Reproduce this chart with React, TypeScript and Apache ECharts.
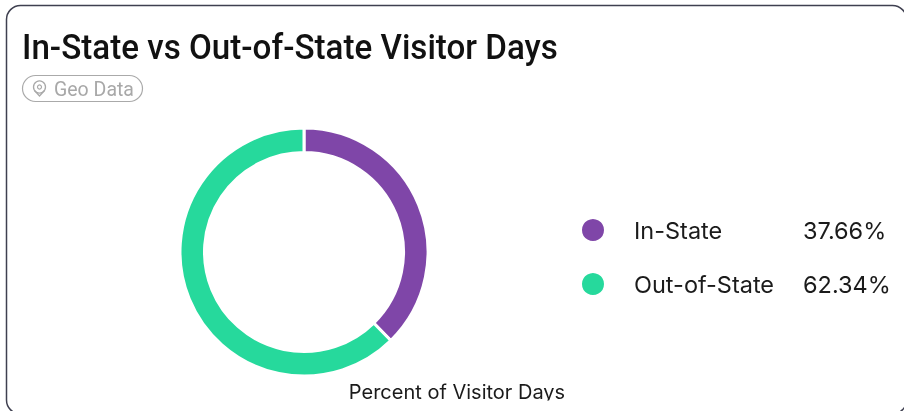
import React, { useEffect, useRef } from "react";
import * as echarts from "echarts";

const categories = ["In-State", "Out-of-State"];
const values = [37.66, 62.34];
const colors = ["#7F46A8", "#26D99C"];
const valueLabels = ["37.66%", "62.34%"];
const titleText = "In-State vs Out-of-State Visitor Days";
const tagText = "Geo Data";
const axisTitle = "Percent of Visitor Days";
const FONT = "Roboto, 'Noto Sans', sans-serif";
const BODY = "Inter, 'Noto Sans', sans-serif";

export default function App() {
  const ref = useRef<HTMLDivElement>(null);
  useEffect(() => {
    if (!ref.current) return;
    const chart = echarts.init(ref.current, undefined, { renderer: "svg" });
    const legendTexts: Record<string, string> = {};
    categories.forEach((c, i) => (legendTexts[c] = valueLabels[i]));
    chart.setOption({
      animation: false,
      backgroundColor: "transparent",
      legend: {
        orient: "vertical",
        left: 580,
        top: 217,
        padding: 0,
        itemWidth: 24,
        itemHeight: 24,
        itemGap: 28,
        icon: "circle",
        selectedMode: false,
        data: categories,
        formatter: (n: string) => `{n|${n}}{v|${legendTexts[n]}}`,
        textStyle: {
          rich: {
            n: { fontFamily: BODY, fontSize: 23.5, color: "#1b1b1b", width: 169, padding: [0, 0, 0, 24] },
            v: { fontFamily: BODY, fontSize: 23.5, color: "#1b1b1b" },
          },
        },
      },
      series: [
        {
          type: "pie",
          center: [304, 252],
          radius: [99.5, 124],
          startAngle: 90,
          clockwise: true,
          label: { show: false },
          labelLine: { show: false },
          silent: true,
          itemStyle: { borderColor: "#fff", borderWidth: 3 },
          data: categories.map((c, i) => ({
            name: c,
            value: values[i],
            itemStyle: { color: colors[i] },
          })),
        },
      ],
      graphic: [
        {
          type: "rect",
          z: -1,
          shape: { x: 6.5, y: 5.5, width: 900, height: 408.5, r: 14 },
          style: { fill: "#fff", stroke: "#3f4050", lineWidth: 1.5 },
        },
        {
          type: "text",
          x: 22,
          y: 47,
          scaleX: 0.948,
          style: { text: titleText, fontFamily: FONT, fontSize: 35, fontWeight: 500, fill: "#111", textVerticalAlign: "middle" },
        },
        {
          type: "rect",
          shape: { x: 22.5, y: 75.5, width: 120, height: 26, r: 13 },
          style: { fill: "#fff", stroke: "#aaaaaa", lineWidth: 1.2 },
        },
        {
          type: "circle",
          shape: { cx: 39.5, cy: 87, r: 6 },
          style: { fill: "none", stroke: "#a8a8a8", lineWidth: 1.3 },
        },
        {
          type: "circle",
          shape: { cx: 39.5, cy: 87, r: 2 },
          style: { fill: "none", stroke: "#a8a8a8", lineWidth: 1.2 },
        },
        {
          type: "polyline",
          shape: { points: [[34.5, 90.5], [39.5, 96], [44.5, 90.5]] },
          style: { fill: "none", stroke: "#a8a8a8", lineWidth: 1.3 },
        },
        {
          type: "text",
          x: 54,
          y: 89,
          style: { text: tagText, fontFamily: FONT, fontSize: 19.5, fill: "#a8a8a8", textVerticalAlign: "middle" },
        },
        {
          type: "text",
          x: 457,
          y: 392,
          style: { text: axisTitle, fontFamily: BODY, fontSize: 20, fill: "#1b1b1b", textAlign: "center", textVerticalAlign: "middle" },
        },
        {
          type: "rect",
          z: 10,
          shape: { x: 340, y: 400.5, width: 240, height: 11 },
          style: { fill: "#fff" },
        },
      ],
    });
    return () => chart.dispose();
  }, []);
  return <div ref={ref} style={{ position: "fixed", left: 0, top: 0, width: 904, height: 411 }} />;
}
